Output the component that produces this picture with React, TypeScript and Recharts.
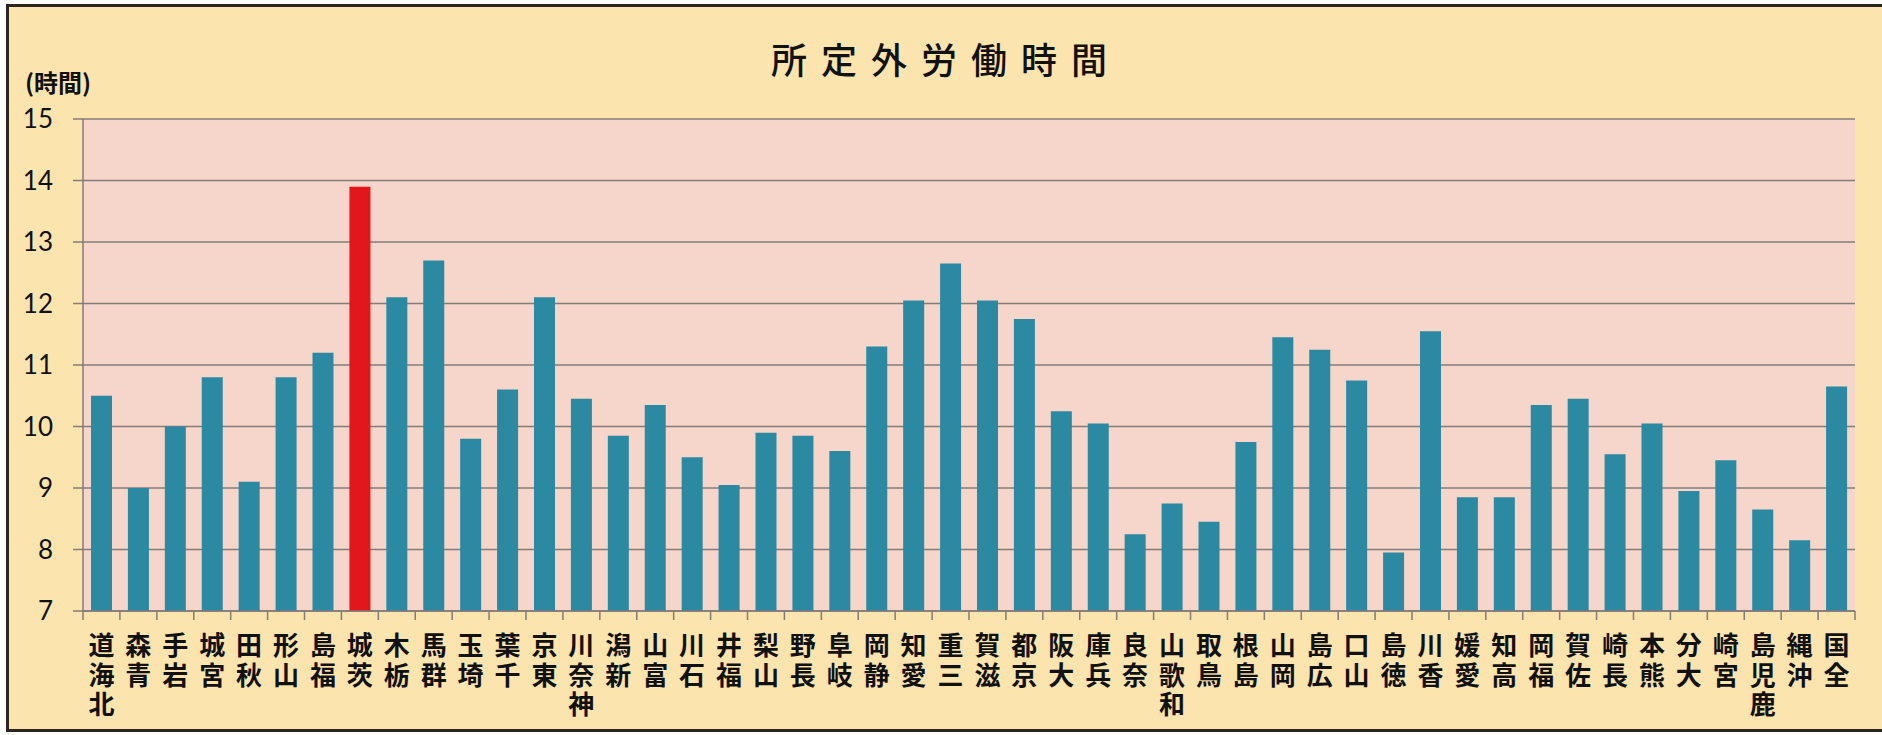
import { BarChart, Bar, XAxis, YAxis, CartesianGrid, Cell } from "recharts";

// 都道府県別 所定外労働時間（時間）
const prefectures = [
  "北海道", "青森", "岩手", "宮城", "秋田", "山形", "福島", "茨城",
  "栃木", "群馬", "埼玉", "千葉", "東京", "神奈川", "新潟", "富山",
  "石川", "福井", "山梨", "長野", "岐阜", "静岡", "愛知", "三重",
  "滋賀", "京都", "大阪", "兵庫", "奈良", "和歌山", "鳥取", "島根",
  "岡山", "広島", "山口", "徳島", "香川", "愛媛", "高知", "福岡",
  "佐賀", "長崎", "熊本", "大分", "宮崎", "鹿児島", "沖縄", "全国",
];
const hours = [
  10.5, 9.0, 10.0, 10.8, 9.1, 10.8, 11.2, 13.9,
  12.1, 12.7, 9.8, 10.6, 12.1, 10.45, 9.85, 10.35,
  9.5, 9.05, 9.9, 9.85, 9.6, 11.3, 12.05, 12.65,
  12.05, 11.75, 10.25, 10.05, 8.25, 8.75, 8.45, 9.75,
  11.45, 11.25, 10.75, 7.95, 11.55, 8.85, 8.85, 10.35,
  10.45, 9.55, 10.05, 8.95, 9.45, 8.65, 8.15, 10.65,
];
const yTicks = [7, 8, 9, 10, 11, 12, 13, 14, 15];
const highlight = "茨城";

const data = prefectures.map((name, i) => ({ name, hours: hours[i] }));

const W = 1882;
const H = 735;
const PLOT_LEFT = 83;
const PLOT_RIGHT = 1855;
const PLOT_TOP = 119;
const PLOT_BOTTOM = 611;
const BAND = (PLOT_RIGHT - PLOT_LEFT) / prefectures.length;

const AXIS_GRAY = "#857b77";
const CJK = '"Noto Sans CJK JP", "Noto Sans", sans-serif';

function PrefTick(props: any) {
  const { x, y, payload, index } = props;
  const chars = Array.from(String(payload.value)).reverse();
  const left = x - BAND / 2;
  return (
    <g>
      <line x1={left} y1={y} x2={left} y2={y + 9} stroke={AXIS_GRAY} strokeWidth={1.5} />
      {index === prefectures.length - 1 && (
        <line x1={x + BAND / 2} y1={y} x2={x + BAND / 2} y2={y + 9} stroke={AXIS_GRAY} strokeWidth={1.5} />
      )}
      <text
        x={x}
        y={y + 44}
        textAnchor="middle"
        fontFamily={CJK}
        fontWeight={700}
        fontSize={26}
        fill="#111"
      >
        {chars.map((c, i) => (
          <tspan key={i} x={x} dy={i === 0 ? 0 : 29.5}>
            {c}
          </tspan>
        ))}
      </text>
    </g>
  );
}

export default function App() {
  return (
    <div
      style={{
        position: "absolute",
        left: 0,
        top: 0,
        width: W,
        height: H,
        overflow: "hidden",
        background: "#fff",
      }}
    >
      <div
        style={{
          position: "absolute",
          left: 6,
          top: 4,
          width: W + 20,
          height: 728,
          boxSizing: "border-box",
          border: "3px solid #2b2622",
          background: "#fbe4ae",
        }}
      />
      <div
        style={{
          position: "absolute",
          left: 0,
          width: 1892,
          top: 36,
          textAlign: "center",
          fontFamily: CJK,
          fontWeight: 500,
          fontSize: 36,
          letterSpacing: 14,
          color: "#111",
          lineHeight: "44px",
        }}
      >
        所定外労働時間
      </div>
      <div
        style={{
          position: "absolute",
          left: 25,
          top: 67,
          fontFamily: CJK,
          fontWeight: 700,
          fontSize: 24,
          color: "#111",
          lineHeight: "30px",
        }}
      >
        (時間)
      </div>
      <div style={{ position: "absolute", left: 0, top: 0 }}>
        <BarChart
          width={W}
          height={H}
          data={data}
          margin={{ top: PLOT_TOP, right: W - PLOT_RIGHT, bottom: 0, left: 0 }}
          barSize={21}
        >
          <CartesianGrid
            vertical={false}
            fill="#f6d5ca"
            fillOpacity={1}
            stroke={AXIS_GRAY}
            strokeWidth={1.5}
          />
          <XAxis
            dataKey="name"
            interval={0}
            tickLine={false}
            tickSize={0}
            tickMargin={0}
            axisLine={{ stroke: AXIS_GRAY, strokeWidth: 1.5 }}
            tick={<PrefTick />}
            height={H - PLOT_BOTTOM}
          />
          <YAxis
            domain={[7, 15]}
            ticks={yTicks}
            allowDataOverflow
            width={PLOT_LEFT}
            tickSize={10}
            tickMargin={20}
            tickLine={{ stroke: AXIS_GRAY, strokeWidth: 1.5 }}
            axisLine={{ stroke: AXIS_GRAY, strokeWidth: 1.5 }}
            tick={{ fill: "#111", fontSize: 26, fontFamily: "Lato, sans-serif" }}
          />
          <Bar dataKey="hours" isAnimationActive={false}>
            {data.map((d) => (
              <Cell key={d.name} fill={d.name === highlight ? "#e3161b" : "#2b89a2"} />
            ))}
          </Bar>
        </BarChart>
      </div>
    </div>
  );
}
